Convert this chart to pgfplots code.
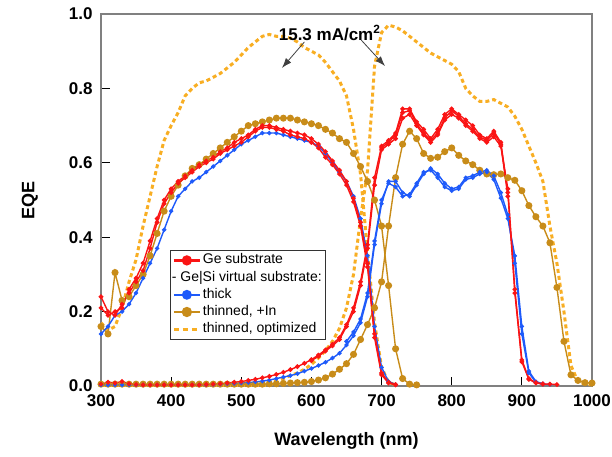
\documentclass[border=0pt]{standalone}
\usepackage{pgfplots}
\pgfplotsset{compat=1.18}
\usetikzlibrary{arrows.meta}
\usepackage{fontspec}
\setmainfont{Liberation Sans}
\definecolor{cRed}{RGB}{250,20,20}
\definecolor{cBlue}{RGB}{30,90,250}
\definecolor{cGold}{RGB}{200,140,25}
\definecolor{cOrange}{RGB}{248,174,35}
\begin{document}
\begin{tikzpicture}[>=latex]
\begin{axis}[
  scale only axis, width=491pt, height=372pt,
  xmin=300, xmax=1000, ymin=0, ymax=1,
  xtick={300,400,...,1000}, ytick={0,0.2,...,1.0},
  tick pos=left, tick align=inside, major tick length=9pt,
  tick style={black, line width=0.9pt},
  axis line style={gray, line width=1.2pt},
  /pgf/number format/assume math mode=true,
  /pgf/number format/1000 sep={},
  yticklabel style={/pgf/number format/fixed, /pgf/number format/fixed zerofill, /pgf/number format/precision=1, xshift=-5pt},
  xticklabel style={yshift=-5pt},
  ticklabel style={font=\bfseries\fontsize{17}{17}\selectfont},
  xlabel={\bfseries Wavelength (nm)}, ylabel={\bfseries EQE},
  label style={font=\bfseries\fontsize{18}{18}\selectfont},
  xlabel style={at={(axis description cs:0.5,-0.147)}, anchor=center},
  ylabel style={at={(axis description cs:-0.145,0.5)}, anchor=center},
  legend cell align=left,
  legend style={at={(0.1405,0.3656)}, anchor=north west, draw=black!80, line width=0.8pt,
    font=\fontsize{14}{16}\selectfont, inner sep=2pt, row sep=1.2pt,
    nodes={text height=10pt, text depth=3pt, inner sep=1.5pt}},
  legend image code/.code={\draw[mark repeat=2,mark phase=2] plot coordinates {(0pt,0pt) (13pt,0pt) (26pt,0pt)};},
]
% legend
\addlegendimage{cRed, line width=2.2pt, mark=*, mark size=4pt}
\addlegendentry{Ge substrate}
\addlegendimage{empty legend}
\addlegendentry{\hspace*{-31pt}\mbox{-}\ Ge|Si virtual substrate:}
\addlegendimage{cBlue, line width=2.2pt, mark=*, mark size=3.8pt}
\addlegendentry{thick}
\addlegendimage{cGold, line width=2.2pt, mark=*, mark size=4pt}
\addlegendentry{thinned, +In}
\addlegendimage{cOrange, line width=3pt, dash pattern=on 5pt off 4pt}
\addlegendentry{thinned, optimized}

% thinned, optimized (dotted)
\addplot[forget plot, cOrange, line width=3pt, dash pattern=on 4pt off 3pt] coordinates {
(300,0.17)(310,0.15)(320,0.16)(330,0.21)(340,0.28)(350,0.34)(360,0.43)(370,0.51)(380,0.59)(390,0.66)
(400,0.70)(410,0.735)(420,0.78)(430,0.80)(440,0.815)(450,0.82)(460,0.83)(470,0.84)(480,0.855)(490,0.87)
(500,0.89)(510,0.91)(520,0.925)(530,0.94)(540,0.945)(550,0.94)(560,0.94)(570,0.935)(580,0.925)(590,0.91)
(600,0.90)(610,0.89)(620,0.87)(630,0.845)(640,0.82)(650,0.78)(660,0.69)(670,0.57)(680,0.36)(690,0.17)
(700,0.05)(710,0.01)(720,0.003)};
\addplot[forget plot, cOrange, line width=3pt, dash pattern=on 4pt off 3pt] coordinates {
(300,0.0)(350,0.0)(400,0.0)(450,0.0)(500,0.0)(540,0.0)(550,0.015)(560,0.02)(570,0.028)(580,0.035)(590,0.045)
(600,0.058)(610,0.075)(620,0.095)(630,0.12)(640,0.155)(650,0.21)(660,0.30)(670,0.45)(680,0.58)(690,0.86)
(700,0.95)(710,0.97)(720,0.965)(730,0.955)(740,0.94)(750,0.925)(760,0.91)(770,0.895)(780,0.885)(790,0.875)
(800,0.865)(810,0.845)(820,0.80)(830,0.78)(840,0.765)(850,0.765)(860,0.77)(870,0.76)(880,0.75)(890,0.725)
(900,0.69)(910,0.645)(920,0.60)(930,0.55)(940,0.43)(950,0.33)(960,0.20)(970,0.055)(980,0.012)(990,0.005)(1000,0.003)};

% thinned, +In
\addplot[forget plot, cGold, line width=1.4pt, mark=*, mark size=2.8pt] coordinates {
(300,0.16)(310,0.14)(320,0.305)(330,0.23)(340,0.24)(350,0.27)(360,0.30)(370,0.35)(380,0.41)(390,0.47)
(400,0.51)(410,0.54)(420,0.565)(430,0.585)(440,0.595)(450,0.61)(460,0.625)(470,0.64)(480,0.655)(490,0.67)
(500,0.685)(510,0.70)(520,0.705)(530,0.71)(540,0.715)(550,0.72)(560,0.72)(570,0.72)(580,0.715)(590,0.71)
(600,0.705)(610,0.70)(620,0.69)(630,0.68)(640,0.665)(650,0.655)(660,0.625)(670,0.59)(680,0.55)(690,0.50)
(700,0.43)(710,0.27)(720,0.10)(730,0.02)(740,0.005)(750,0.003)};
\addplot[forget plot, cGold, line width=1.4pt, mark=*, mark size=2.8pt] coordinates {
(300,0.005)(310,0.005)(320,0.005)(330,0.005)(340,0.005)(350,0.005)(360,0.005)(370,0.005)(380,0.005)(390,0.005)
(400,0.005)(410,0.005)(420,0.005)(430,0.005)(440,0.005)(450,0.005)(460,0.005)(470,0.005)(480,0.005)(490,0.005)
(500,0.005)(510,0.005)(520,0.005)(530,0.005)(540,0.006)(550,0.006)(560,0.007)(570,0.008)(580,0.009)(590,0.01)
(600,0.012)(610,0.016)(620,0.022)(630,0.032)(640,0.045)(650,0.06)(660,0.085)(670,0.125)(680,0.165)(690,0.21)
(700,0.28)(710,0.43)(720,0.56)(730,0.65)(740,0.685)(750,0.665)(760,0.625)(770,0.612)(780,0.615)(790,0.63)
(800,0.64)(810,0.62)(820,0.605)(830,0.595)(840,0.58)(850,0.57)(860,0.568)(870,0.57)(880,0.56)(890,0.553)
(900,0.525)(910,0.485)(920,0.455)(930,0.43)(940,0.385)(950,0.265)(960,0.12)(970,0.03)(980,0.015)(990,0.009)(1000,0.008)};

% thick (blue)
\addplot[forget plot, cBlue, line width=1.4pt, mark=*, mark size=1.4pt] coordinates {
(300,0.14)(310,0.16)(320,0.19)(330,0.20)(340,0.22)(350,0.25)(360,0.29)(370,0.33)(380,0.37)(390,0.42)
(400,0.47)(410,0.51)(420,0.53)(430,0.55)(440,0.56)(450,0.575)(460,0.59)(470,0.605)(480,0.62)(490,0.635)
(500,0.65)(510,0.66)(520,0.67)(530,0.68)(540,0.68)(550,0.68)(560,0.675)(570,0.67)(580,0.665)(590,0.66)
(600,0.655)(610,0.645)(620,0.625)(630,0.60)(640,0.575)(650,0.55)(660,0.51)(670,0.45)(680,0.35)(690,0.16)
(700,0.05)(710,0.012)(720,0.004)};
\addplot[forget plot, cBlue, line width=1.4pt, mark=*, mark size=1.4pt] coordinates {
(300,0.003)(310,0.003)(320,0.003)(330,0.003)(340,0.003)(350,0.003)(360,0.003)(370,0.003)(380,0.003)(390,0.003)
(400,0.003)(410,0.003)(420,0.003)(430,0.003)(440,0.003)(450,0.003)(460,0.004)(470,0.005)(480,0.006)(490,0.007)
(500,0.008)(510,0.009)(520,0.011)(530,0.013)(540,0.016)(550,0.02)(560,0.024)(570,0.028)(580,0.033)(590,0.04)
(600,0.047)(610,0.055)(620,0.064)(630,0.075)(640,0.088)(650,0.11)(660,0.135)(670,0.17)(680,0.24)(690,0.38)
(700,0.49)(710,0.55)(720,0.55)(730,0.52)(740,0.51)(750,0.54)(760,0.57)(770,0.585)(780,0.57)(790,0.545)
(800,0.53)(810,0.535)(820,0.56)(830,0.565)(840,0.575)(850,0.58)(860,0.565)(870,0.52)(880,0.46)(890,0.33)
(900,0.14)(910,0.035)(920,0.01)(930,0.005)(940,0.004)};
\addplot[forget plot, cBlue, line width=1.4pt, mark=*, mark size=1.4pt] coordinates {
(650,0.12)(660,0.145)(670,0.18)(680,0.25)(690,0.39)
(700,0.50)(710,0.545)(720,0.535)(730,0.51)(740,0.515)(750,0.545)(760,0.575)(770,0.58)(780,0.56)(790,0.535)
(800,0.525)(810,0.53)(820,0.555)(830,0.56)(840,0.57)(850,0.575)(860,0.555)(870,0.505)(880,0.45)(890,0.35)
(900,0.16)(910,0.04)(920,0.012)(930,0.006)};

% Ge substrate (red)
\addplot[forget plot, cRed, line width=1.4pt, mark=*, mark size=1.6pt] coordinates {
(300,0.24)(310,0.20)(320,0.19)(330,0.22)(340,0.25)(350,0.28)(360,0.31)(370,0.37)(380,0.44)(390,0.49)
(400,0.52)(410,0.545)(420,0.56)(430,0.575)(440,0.59)(450,0.60)(460,0.61)(470,0.625)(480,0.635)(490,0.645)
(500,0.655)(510,0.67)(520,0.685)(530,0.695)(540,0.695)(550,0.69)(560,0.685)(570,0.675)(580,0.67)(590,0.665)
(600,0.655)(610,0.64)(620,0.615)(630,0.595)(640,0.57)(650,0.54)(660,0.495)(670,0.43)(680,0.32)(690,0.13)
(700,0.03)(710,0.008)(720,0.003)};
\addplot[forget plot, cRed, line width=1.4pt, mark=*, mark size=1.6pt] coordinates {
(300,0.21)(310,0.19)(320,0.20)(330,0.21)(340,0.26)(350,0.29)(360,0.33)(370,0.39)(380,0.45)(390,0.50)
(400,0.53)(410,0.55)(420,0.565)(430,0.58)(440,0.595)(450,0.605)(460,0.615)(470,0.63)(480,0.64)(490,0.655)
(500,0.665)(510,0.675)(520,0.69)(530,0.70)(540,0.70)(550,0.695)(560,0.69)(570,0.685)(580,0.68)(590,0.675)
(600,0.665)(610,0.65)(620,0.63)(630,0.605)(640,0.58)(650,0.55)(660,0.505)(670,0.44)(680,0.33)(690,0.14)
(700,0.035)(710,0.01)(720,0.004)};
\addplot[forget plot, cRed, line width=1.4pt, mark=*, mark size=1.6pt] coordinates {
(300,0.005)(310,0.01)(320,0.008)(330,0.012)(340,0.006)(350,0.004)(360,0.003)(370,0.003)(380,0.003)(390,0.003)
(400,0.003)(410,0.003)(420,0.003)(430,0.003)(440,0.003)(450,0.004)(460,0.005)(470,0.006)(480,0.008)(490,0.01)
(500,0.012)(510,0.015)(520,0.018)(530,0.022)(540,0.026)(550,0.031)(560,0.037)(570,0.044)(580,0.052)(590,0.061)
(600,0.071)(610,0.083)(620,0.097)(630,0.112)(640,0.13)(650,0.165)(660,0.21)(670,0.28)(680,0.38)(690,0.56)
(700,0.645)(710,0.66)(720,0.68)(730,0.745)(740,0.745)(750,0.71)(760,0.69)(770,0.665)(780,0.69)(790,0.73)
(800,0.745)(810,0.73)(820,0.715)(830,0.70)(840,0.675)(850,0.665)(860,0.685)(870,0.655)(880,0.52)(890,0.25)
(900,0.065)(910,0.018)(920,0.008)(930,0.005)(940,0.005)(950,0.004)};
\addplot[forget plot, cRed, line width=1.4pt, mark=*, mark size=1.6pt] coordinates {
(600,0.068)(610,0.08)(620,0.094)(630,0.108)(640,0.125)(650,0.16)(660,0.20)(670,0.27)(680,0.37)(690,0.54)
(700,0.635)(710,0.65)(720,0.665)(730,0.72)(740,0.73)(750,0.70)(760,0.675)(770,0.655)(780,0.675)(790,0.715)
(800,0.73)(810,0.72)(820,0.70)(830,0.685)(840,0.665)(850,0.655)(860,0.67)(870,0.645)(880,0.53)(890,0.26)
(900,0.07)(910,0.02)(920,0.009)(930,0.006)};
\addplot[forget plot, cRed, line width=1.4pt, mark=*, mark size=1.6pt] coordinates {
(700,0.64)(710,0.655)(720,0.675)(730,0.735)(740,0.74)(750,0.705)(760,0.68)(770,0.66)(780,0.68)(790,0.72)
(800,0.74)(810,0.725)(820,0.705)(830,0.69)(840,0.67)(850,0.66)(860,0.68)(870,0.65)(880,0.51)};

% annotation
\node[font=\bfseries\fontsize{17}{17}\selectfont] at (axis cs:626,0.949) {15.3 mA/cm\textsuperscript{2}};
\draw[-{Latex[length=10pt,width=7pt]}, black!75, line width=0.8pt] (axis cs:590,0.925) -- (axis cs:558,0.855);
\draw[-{Latex[length=10pt,width=7pt]}, black!75, line width=0.8pt] (axis cs:671,0.930) -- (axis cs:705,0.860);
\end{axis}
\pgfresetboundingbox
\useasboundingbox (current axis.south west) ++(-101pt,-70pt) rectangle ++(612pt,456pt);
\end{tikzpicture}
\end{document}
